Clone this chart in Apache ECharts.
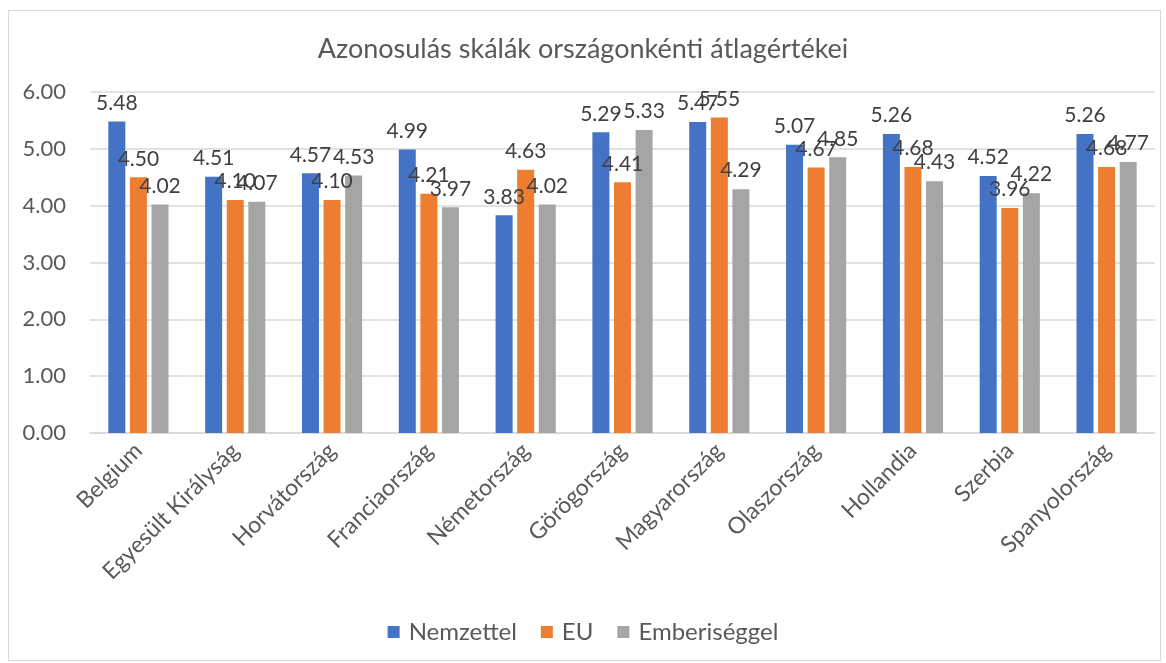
<!DOCTYPE html>
<html>
<head>
<meta charset="utf-8">
<script src="https://cdn.jsdelivr.net/npm/echarts@6/dist/echarts.min.js"></script>
<style>
  html, body { margin: 0; padding: 0; background: #fff; }
  #frame { position: absolute; left: 8px; top: 10px; width: 1151px; height: 649px; border: 1px solid #d9d9d9; }
  #chart { position: absolute; left: 0; top: 0; width: 1166px; height: 663px; }
</style>
</head>
<body>
<div id="frame"></div>
<div id="chart"></div>
<script>
const countries = ['Belgium', 'Egyesült Királyság', 'Horvátország', 'Franciaország', 'Németország',
  'Görögország', 'Magyarország', 'Olaszország', 'Hollandia', 'Szerbia', 'Spanyolország'];
const nemzettel = [5.48, 4.51, 4.57, 4.99, 3.83, 5.29, 5.47, 5.07, 5.26, 4.52, 5.26];
const eu = [4.50, 4.10, 4.10, 4.21, 4.63, 4.41, 5.55, 4.67, 4.68, 3.96, 4.68];
const emberiseggel = [4.02, 4.07, 4.53, 3.97, 4.02, 5.33, 4.29, 4.85, 4.43, 4.22, 4.77];

const font = 'Lato, "Open Sans", sans-serif';
const chart = echarts.init(document.getElementById('chart'));

const mkSeries = (name, data, color) => ({
  name: name,
  type: 'bar',
  data: data,
  barWidth: 17,
  barGap: '27%',
  itemStyle: { color: color },
  label: {
    show: true,
    position: 'top',
    distance: 8,
    color: '#404040',
    fontFamily: font,
    fontSize: 21,
    formatter: p => p.value.toFixed(2)
  }
});

chart.setOption({
  animation: false,
  textStyle: { fontFamily: font },
  title: {
    text: 'Azonosulás skálák országonkénti átlagértékei',
    left: 'center',
    top: 31,
    textStyle: { color: '#595959', fontSize: 27, fontWeight: 'normal', fontFamily: font }
  },
  legend: {
    bottom: 14,
    left: 'center',
    itemWidth: 12,
    itemHeight: 12,
    itemGap: 24,
    icon: 'rect',
    textStyle: { color: '#595959', fontSize: 24, fontFamily: font, padding: [0, 0, 0, 4] },
    data: ['Nemzettel', 'EU', 'Emberiséggel']
  },
  grid: { left: 90, right: 11, top: 92, bottom: 230, containLabel: false },
  xAxis: {
    type: 'category',
    data: countries,
    axisLine: { lineStyle: { color: '#d9d9d9', width: 1.5 } },
    axisTick: { show: false },
    axisLabel: { rotate: 45, color: '#595959', fontSize: 23, fontFamily: font, margin: 14, interval: 0 }
  },
  yAxis: {
    type: 'value',
    min: 0,
    max: 6,
    interval: 1,
    axisLine: { show: false },
    axisTick: { show: false },
    splitLine: { lineStyle: { color: '#d9d9d9', width: 1.5 } },
    axisLabel: { color: '#595959', fontSize: 22, fontFamily: font, margin: 24, formatter: v => v.toFixed(2) }
  },
  series: [
    mkSeries('Nemzettel', nemzettel, '#4472C4'),
    mkSeries('EU', eu, '#ED7D31'),
    mkSeries('Emberiséggel', emberiseggel, '#A5A5A5')
  ]
});
</script>
</body>
</html>
